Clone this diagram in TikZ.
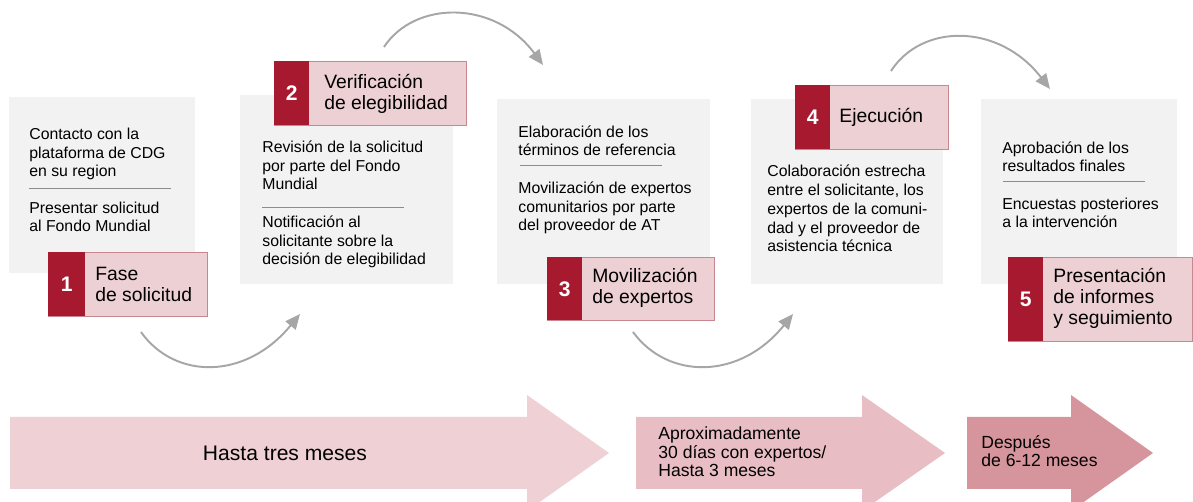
\documentclass[tikz,border=0pt]{standalone}
\usepackage{fontspec}
\setmainfont{Liberation Sans}
\usetikzlibrary{arrows.meta}

\definecolor{gfred}{RGB}{166,25,46}
\definecolor{gfpink}{RGB}{237,208,211}
\definecolor{gfpinkline}{RGB}{200,135,143}
\definecolor{gfgray}{RGB}{242,242,242}
\definecolor{gfsep}{RGB}{140,140,140}
\definecolor{gfcurve}{RGB}{166,166,166}
\definecolor{spanA}{RGB}{239,209,213}
\definecolor{spanB}{RGB}{232,190,196}
\definecolor{spanC}{RGB}{214,149,157}

\tikzset{
  graybox/.style={fill=gfgray, anchor=north west, inner sep=0pt},
  stagebox/.style={fill=gfpink, draw=gfpinkline, line width=0.6pt, anchor=north west, inner sep=0pt},
  numbox/.style={fill=gfred, text=white, anchor=north west, inner sep=0pt, minimum width=0.7cm,
    font=\fontsize{12}{12}\selectfont\bfseries},
  bodytext/.style={anchor=base west, align=left, inner sep=0pt, font=\fontsize{9}{10.8}\selectfont},
  stagetext/.style={anchor=base west, align=left, inner sep=0pt, font=\fontsize{11}{12}\selectfont},
  spantext/.style={anchor=base west, align=left, inner sep=0pt, font=\fontsize{10}{10.6}\selectfont},
  sepline/.style={draw=gfsep, line width=0.5pt},
  curvearrow/.style={draw=gfcurve, line width=1.1pt, -{Triangle[length=0.3cm,width=0.26cm]}}
}

\begin{document}
\begin{tikzpicture}[x=0.02cm,y=-0.02cm]
  \useasboundingbox (0,0) rectangle (1193,502);

  % gray step boxes
  \node [graybox, minimum width=3.72cm, minimum height=3.52cm] (box1) at (9,97) {};
  \node [graybox, minimum width=4.26cm, minimum height=3.78cm] (box2) at (240,95) {};
  \node [graybox, minimum width=4.26cm, minimum height=3.70cm] (box3) at (497,99) {};
  \node [graybox, minimum width=3.84cm, minimum height=3.70cm] (box4) at (751,99) {};
  \node [graybox, minimum width=3.92cm, minimum height=3.70cm] (box5) at (981,99) {};

  % stage labels
  \node [stagebox, minimum width=3.18cm, minimum height=1.28cm] (lab1) at (48,252) {};
  \node [numbox, minimum height=1.28cm, minimum width=0.74cm] (num1) at (48,252) {1};
  \node [stagebox, minimum width=3.84cm, minimum height=1.28cm] (lab2) at (274,61) {};
  \node [numbox, minimum height=1.28cm] (num2) at (274,61) {2};
  \node [stagebox, minimum width=3.34cm, minimum height=1.26cm] (lab3) at (547,257) {};
  \node [numbox, minimum height=1.26cm] (num3) at (547,257) {3};
  \node [stagebox, minimum width=3.06cm, minimum height=1.28cm] (lab4) at (795,85) {};
  \node [numbox, minimum height=1.28cm] (num4) at (795,85) {4};
  \node [stagebox, minimum width=3.68cm, minimum height=1.68cm] (lab5) at (1008,257) {};
  \node [numbox, minimum height=1.68cm] (num5) at (1008,257) {5};

  % multi-line nodes sit on the baseline of their last line
  \node [stagetext] (fase) at (95,302) {Fase\\de solicitud};
  \node [stagetext] (verif) at (324,110) {Verificación\\de elegibilidad};
  \node [stagetext] (movil) at (592,304) {Movilización\\de expertos};
  \node [stagetext] (ejec) at (839,123) {Ejecución};
  \node [stagetext] (infor) at (1053,325) {Presentación\\de informes\\y seguimiento};

  % box texts
  \node [bodytext] (contacto) at (29,177) {Contacto con la\\plataforma de CDG\\en su region};
  \draw [sepline] (29,188) -- (171,188);
  \node [bodytext] (presentar) at (29,232) {Presentar solicitud\\al Fondo Mundial};

  \node [bodytext] (revision) at (262,190) {Revisión de la solicitud\\por parte del Fondo\\Mundial};
  \draw [sepline] (262,207) -- (404,207);
  \node [bodytext] (notif) at (262,265) {Notificación al\\solicitante sobre la\\decisión de elegibilidad};

  \node [bodytext] (elab) at (518,156) {Elaboración de los\\términos de referencia};
  \draw [sepline] (520,165) -- (662,165);
  \node [bodytext] (movexp) at (518,231) {Movilización de expertos\\comunitarios por parte\\del proveedor de AT};

  \node [bodytext] (colab) at (767,252) {Colaboración estrecha\\entre el solicitante, los\\expertos de la comuni-\\dad y el proveedor de\\asistencia técnica};

  \node [bodytext] (aprob) at (1002,172) {Aprobación de los\\resultados finales};
  \draw [sepline] (1003,181) -- (1145,181);
  \node [bodytext] (encu) at (1002,228) {Encuestas posteriores\\a la intervención};

  % curved arrows between stages
  \coordinate (c1s) at (141,332);  \coordinate (c1e) at (300,314);
  \coordinate (c2s) at (384,47);   \coordinate (c2e) at (543,65);
  \coordinate (c3s) at (633,332);  \coordinate (c3e) at (793,314);
  \coordinate (c4s) at (891,71);   \coordinate (c4e) at (1050,89);
  \draw [curvearrow] (c1s) .. controls (175,380) and (246,380) .. (c1e);
  \draw [curvearrow] (c2s) .. controls (415,0) and (495,0) .. (c2e);
  \draw [curvearrow] (c3s) .. controls (668,380) and (740,380) .. (c3e);
  \draw [curvearrow] (c4s) .. controls (922,23) and (999,23) .. (c4e);

  % time spans
  \fill [spanA] (10,417) -- (527,417) -- (527,395) -- (609,453) -- (527,511) -- (527,489) -- (10,489) -- cycle;
  \fill [spanB] (636,417) -- (862,417) -- (862,395) -- (945,453) -- (862,511) -- (862,489) -- (636,489) -- cycle;
  \fill [spanC] (967,417) -- (1071,417) -- (1071,395) -- (1153,453) -- (1071,511) -- (1071,489) -- (967,489) -- cycle;

  \node [anchor=base, inner sep=0pt, font=\fontsize{12}{12}\selectfont] (hasta) at (285,461) {Hasta tres meses};
  \node [spantext] (aprox) at (658,477) {Aproximadamente\\30 días con expertos/\\Hasta 3 meses};
  \node [spantext] (despues) at (981,467) {Después\\de 6-12 meses};

\end{tikzpicture}
\end{document}
